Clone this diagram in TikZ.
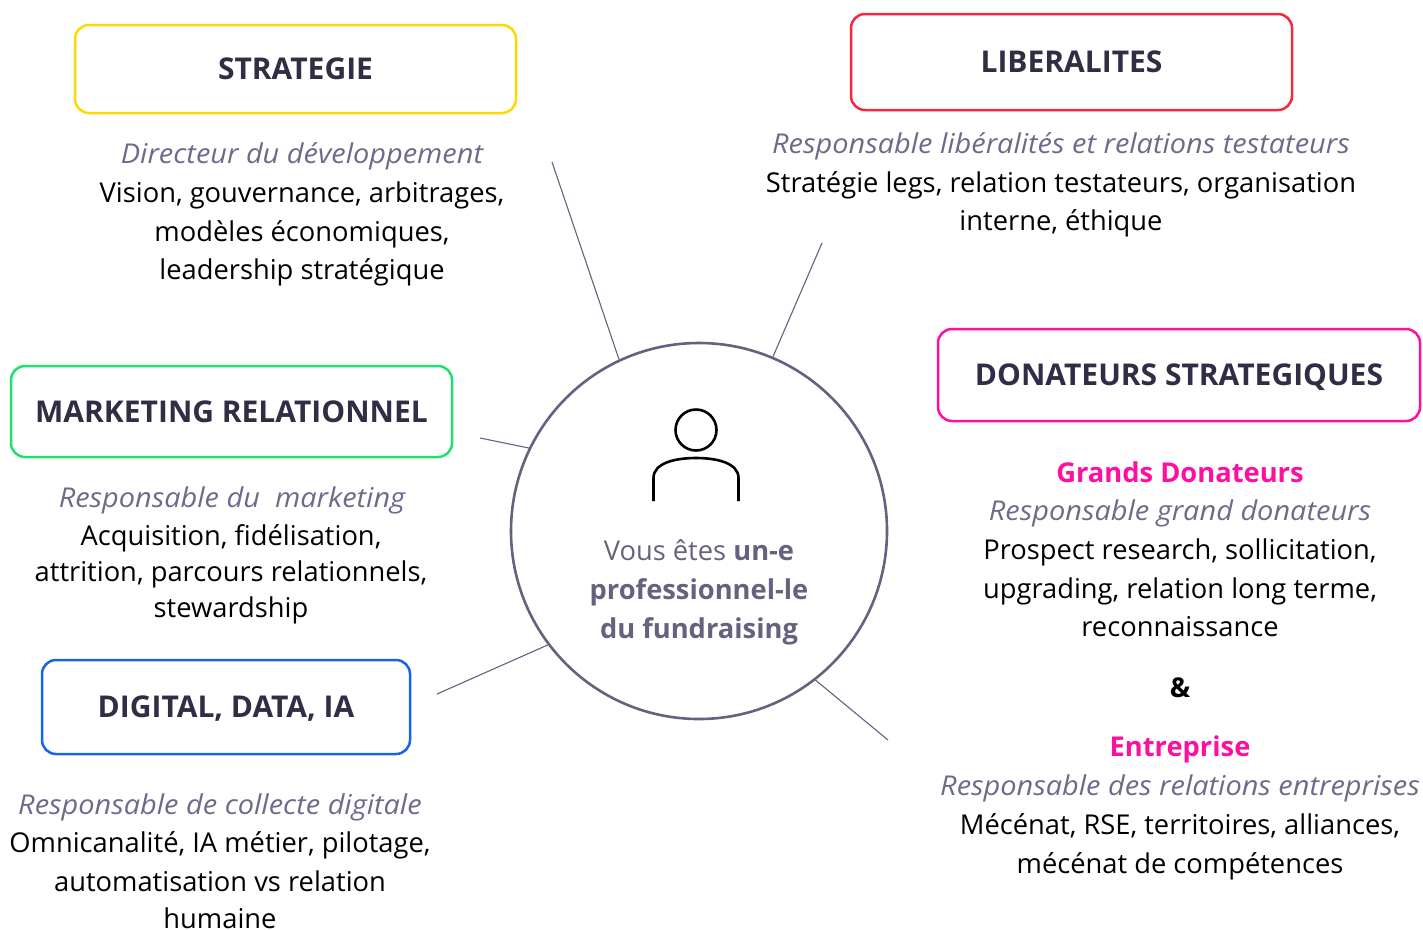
\documentclass[tikz,border=0pt]{standalone}
\usepackage{fontspec}
\setmainfont{Open Sans}[ItalicFeatures={FakeStretch=1.06}]
\definecolor{titlecol}{HTML}{2F2E45}
\definecolor{rolecol}{HTML}{6E6A8A}
\definecolor{ringcol}{HTML}{67607F}
\definecolor{cyellow}{HTML}{FFD800}
\definecolor{cred}{HTML}{F5283F}
\definecolor{cgreen}{HTML}{1EE06A}
\definecolor{cblue}{HTML}{1464F0}
\definecolor{cmag}{HTML}{FF0FA0}
\begin{document}
\begin{tikzpicture}[x=1pt,y=-1pt,
  titlebox/.style={draw, line width=2.5pt, rounded corners=14pt, inner sep=0pt,
    text=titlecol, font=\fontsize{30}{36}\selectfont\bfseries,
    text height=21.4pt, text depth=0pt},
  txt/.style={anchor=base, inner sep=0pt, font=\fontsize{27.3}{32}\selectfont, text=black},
  role/.style={txt, font=\fontsize{27.3}{32}\selectfont\itshape, text=rolecol},
  accent/.style={txt, font=\fontsize{27.3}{32}\selectfont\bfseries, text=cmag},
  hubtxt/.style={anchor=base, inner sep=0pt, font=\fontsize{27.3}{32}\selectfont, text=ringcol},
  link/.style={draw=ringcol, line width=1.1pt}]
\useasboundingbox (0,0) rectangle (1423,929);

% central circle
\node[circle, draw=ringcol, line width=2.6pt, minimum size=376pt, inner sep=0pt] (hub) at (699,531) {};

% person icon
\draw[line width=2.6pt, black] (696,430) circle[radius=20.5pt];
\draw[line width=2.6pt, black, line cap=butt] (653.5,501) -- (653.5,478)
  .. controls (653.5,463) and (675,458) .. (696,458)
  .. controls (717,458) and (738.5,463) .. (738.5,478) -- (738.5,501);

\node[hubtxt] (h1) at (699,560) {Vous êtes \textbf{un-e}};
\node[hubtxt, font=\fontsize{27.3}{32}\selectfont\bfseries] (h2) at (699,599) {professionnel-le};
\node[hubtxt, font=\fontsize{27.3}{32}\selectfont\bfseries] (h3) at (699,638) {du fundraising};

% title boxes
\node[titlebox, draw=cyellow, minimum width=441pt, minimum height=88pt] (strat) at (295.5,69) {STRATEGIE};
\node[titlebox, draw=cred, minimum width=441pt, minimum height=96pt] (lib) at (1071.5,62) {LIBERALITES};
\node[titlebox, draw=cgreen, minimum width=441pt, minimum height=91pt] (mkt) at (231.5,411.5) {MARKETING RELATIONNEL};
\node[titlebox, draw=cblue, minimum width=368pt, minimum height=94pt] (dig) at (226,707) {DIGITAL, DATA, IA};
\node[titlebox, draw=cmag, minimum width=482pt, minimum height=92pt] (don) at (1179,375) {DONATEURS STRATEGIQUES};

% STRATEGIE text
\node[role] (s0) at (302,163) {Directeur du développement};
\node[txt] (s1) at (302,202) {Vision, gouvernance, arbitrages,};
\node[txt] (s2) at (302,241) {modèles économiques,};
\node[txt] (s3) at (302,279) {leadership stratégique};

% LIBERALITES text
\node[role] (l0) at (1061,153) {Responsable libéralités et relations testateurs};
\node[txt] (l1) at (1061,192) {Stratégie legs, relation testateurs, organisation};
\node[txt] (l2) at (1061,230) {interne, éthique};

% MARKETING text
\node[role] (m0) at (232,507) {Responsable du\ \ marketing};
\node[txt] (m1) at (231,545) {Acquisition, fidélisation,};
\node[txt] (m2) at (231,581) {attrition, parcours relationnels,};
\node[txt] (m3) at (231,617) {stewardship};

% DIGITAL text
\node[role] (d0) at (220,814) {Responsable de collecte digitale};
\node[txt] (d1) at (220,852) {Omnicanalité, IA métier, pilotage,};
\node[txt] (d2) at (220,891) {automatisation vs relation};
\node[txt] (d3) at (220,928) {humaine};

% DONATEURS text
\node[accent] (g0) at (1180,482) {Grands Donateurs};
\node[role] (g1) at (1180,520) {Responsable grand donateurs};
\node[txt] (g2) at (1180,559) {Prospect research, sollicitation,};
\node[txt] (g3) at (1180,598) {upgrading, relation long terme,};
\node[txt] (g4) at (1180,636) {reconnaissance};
\node[txt, font=\fontsize{27.3}{32}\selectfont\bfseries] (amp) at (1180,697) {\&};
\node[accent] (e0) at (1180,756) {Entreprise};
\node[role] (e1) at (1180,795) {Responsable des relations entreprises};
\node[txt] (e2) at (1180,834) {Mécénat, RSE, territoires, alliances,};
\node[txt] (e3) at (1180,873) {mécénat de compétences};

% connectors
\coordinate (sEnd) at (552,162);
\coordinate (lEnd) at (822,243);
\coordinate (mEnd) at (480,438);
\coordinate (dEnd) at (437,694);
\coordinate (gEnd) at (888,740);
\draw[link] (hub.115.1) -- (sEnd);
\draw[link] (hub.67.8) -- (lEnd);
\draw[link] (hub.154.9) -- (mEnd);
\draw[link] (hub.217.1) -- (dEnd);
\draw[link] (hub.308) -- (gEnd);
\end{tikzpicture}
\end{document}
